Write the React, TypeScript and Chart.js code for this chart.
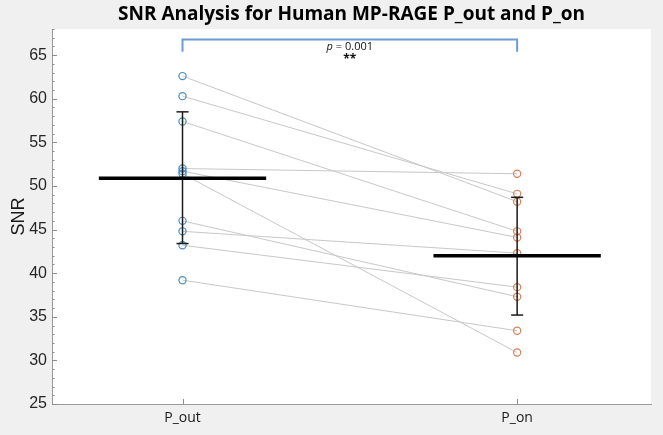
import React, { useEffect, useRef } from "react";
import { Chart, registerables } from "chart.js";

Chart.register(...registerables);

const categories = ["P_out", "P_on"];
const pOutValues = [62.6, 60.3, 57.4, 52.0, 51.7, 51.4, 46.0, 44.8, 43.2, 39.2];
const pOnValues = [48.2, 49.1, 44.8, 51.4, 44.1, 30.9, 37.3, 42.3, 38.4, 33.4];
const groupMeans = [50.9, 42.0];
const errLow = [43.4, 35.2];
const errHigh = [58.5, 48.7];
const yMin = 25;
const yMax = 68;
const majorStep = 5;
const bracketLow = 65.4;
const bracketHigh = 66.8;
const pText = "p";
const pRest = " = 0.001";
const stars = "**";
const titleText = "SNR Analysis for Human MP-RAGE P_out and P_on";
const yTitle = "SNR";

const X_MIN = 0.61;
const X_MAX = 2.4;
const MEAN_HALF = 0.25;
const CAP_HALF = 0.018;

const overlay = {
  id: "overlay",
  beforeDraw(chart: any) {
    const { ctx, chartArea } = chart;
    ctx.save();
    ctx.fillStyle = "#f0f0f0";
    ctx.fillRect(0, 0, chart.width, chart.height);
    ctx.fillStyle = "#ffffff";
    ctx.fillRect(chartArea.left, chartArea.top, chartArea.right - chartArea.left, chartArea.bottom - chartArea.top);
    ctx.restore();
  },
  afterDraw(chart: any) {
    const { ctx, chartArea, scales } = chart;
    const y = scales.y;
    const x = scales.x;
    ctx.save();
    ctx.strokeStyle = "#8c8c8c";
    ctx.lineWidth = 1;
    for (let v = yMin; v <= yMax; v += 1) {
      const py = Math.round(y.getPixelForValue(v)) + 0.5;
      const len = v % majorStep === 0 ? 5 : 2.5;
      ctx.beginPath();
      ctx.moveTo(chartArea.left, py);
      ctx.lineTo(chartArea.left + len, py);
      ctx.stroke();
    }
    [1, 2].forEach((v) => {
      const px = Math.round(x.getPixelForValue(v)) + 0.5;
      ctx.beginPath();
      ctx.moveTo(px, chartArea.bottom);
      ctx.lineTo(px, chartArea.bottom - 5);
      ctx.stroke();
    });
    ctx.fillStyle = "#000000";
    ctx.font = "bold 19px 'Open Sans'";
    ctx.textAlign = "center";
    ctx.textBaseline = "middle";
    ctx.fillText(titleText, (chartArea.left + chartArea.right) / 2, 15);
    ctx.save();
    ctx.translate(19, (chartArea.top + chartArea.bottom) / 2);
    ctx.rotate(-Math.PI / 2);
    ctx.font = "18px 'Liberation Sans'";
    ctx.fillStyle = "#1a1a1a";
    ctx.fillText(yTitle, 0, 0);
    ctx.restore();
    const cx = (x.getPixelForValue(1) + x.getPixelForValue(2)) / 2;
    const ty = y.getPixelForValue(bracketHigh) + 7;
    ctx.font = "italic 11px 'Open Sans'";
    const w1 = ctx.measureText(pText).width;
    ctx.font = "11px 'Open Sans'";
    const w2 = ctx.measureText(pRest).width;
    const start = cx - (w1 + w2) / 2;
    ctx.textAlign = "left";
    ctx.fillStyle = "#111111";
    ctx.font = "italic 11px 'Open Sans'";
    ctx.fillText(pText, start, ty);
    ctx.font = "11px 'Open Sans'";
    ctx.fillText(pRest, start + w1, ty);
    ctx.textAlign = "center";
    ctx.font = "bold 12px 'Open Sans'";
    ctx.fillText(stars, cx, ty + 13);
    ctx.restore();
  },
};

export default function App() {
  const ref = useRef<HTMLCanvasElement | null>(null);
  useEffect(() => {
    if (!ref.current) return;
    const pairLines = pOutValues.map((v, i) => ({
      data: [
        { x: 1, y: v },
        { x: 2, y: pOnValues[i] },
      ],
      showLine: true,
      borderColor: "#c8c8c8",
      borderWidth: 1,
      pointRadius: 0,
    }));
    const meanLines = groupMeans.map((m, i) => ({
      data: [
        { x: i + 1 - MEAN_HALF, y: m },
        { x: i + 1 + MEAN_HALF, y: m },
      ],
      showLine: true,
      borderColor: "#000000",
      borderWidth: 3.5,
      pointRadius: 0,
    }));
    const errLines: any[] = [];
    groupMeans.forEach((_, i) => {
      const cx = i + 1;
      errLines.push({
        data: [
          { x: cx, y: errLow[i] },
          { x: cx, y: errHigh[i] },
        ],
        showLine: true,
        borderColor: "#1a1a1a",
        borderWidth: 1.5,
        pointRadius: 0,
      });
      [errLow[i], errHigh[i]].forEach((v) => {
        errLines.push({
          data: [
            { x: cx - CAP_HALF, y: v },
            { x: cx + CAP_HALF, y: v },
          ],
          showLine: true,
          borderColor: "#1a1a1a",
          borderWidth: 1.5,
          pointRadius: 0,
        });
      });
    });
    const bracket = {
      data: [
        { x: 1, y: bracketLow },
        { x: 1, y: bracketHigh },
        { x: 2, y: bracketHigh },
        { x: 2, y: bracketLow },
      ],
      showLine: true,
      borderColor: "#6d9bd1",
      borderWidth: 2,
      pointRadius: 0,
      clip: false,
    };
    const outPts = {
      data: pOutValues.map((v) => ({ x: 1, y: v })),
      pointRadius: 3.6,
      pointBorderWidth: 1.2,
      borderColor: "#4a8cc7",
      backgroundColor: "rgba(0,0,0,0)",
    };
    const onPts = {
      data: pOnValues.map((v) => ({ x: 2, y: v })),
      pointRadius: 3.6,
      pointBorderWidth: 1.2,
      borderColor: "#d9805a",
      backgroundColor: "rgba(0,0,0,0)",
    };
    const chart = new Chart(ref.current, {
      type: "scatter",
      data: {
        datasets: [bracket, ...meanLines, ...errLines, outPts, onPts, ...pairLines] as any,
      },
      options: {
        responsive: false,
        animation: false,
        events: [],
        layout: { padding: { top: 29, right: 12, left: 0, bottom: 0 } },
        plugins: { legend: { display: false }, tooltip: { enabled: false }, title: { display: false } },
        scales: {
          x: {
            type: "linear",
            min: X_MIN,
            max: X_MAX,
            afterBuildTicks: (s: any) => {
              s.ticks = categories.map((_, i) => ({ value: i + 1 }));
            },
            afterFit: (s: any) => {
              s.height = 31;
            },
            grid: { display: false, drawTicks: false },
            border: { display: true, color: "#9a9a9a", width: 1 },
            ticks: {
              padding: 6,
              color: "#1a1a1a",
              font: { family: "'Open Sans'", size: 14 },
              callback: (v: any) => categories[Math.round(v) - 1] ?? "",
              maxRotation: 0,
            },
          },
          y: {
            type: "linear",
            min: yMin,
            max: yMax,
            afterBuildTicks: (s: any) => {
              const t = [];
              for (let v = yMin; v <= yMax; v += majorStep) t.push({ value: v });
              s.ticks = t;
            },
            afterFit: (s: any) => {
              s.width = 52;
            },
            grid: { display: false, drawTicks: false },
            border: { display: true, color: "#9a9a9a", width: 1 },
            ticks: {
              padding: 5,
              color: "#262626",
              font: { family: "'Liberation Sans'", size: 16 },
            },
          },
        },
      },
      plugins: [overlay],
    });
    return () => chart.destroy();
  }, []);
  return (
    <div style={{ position: "fixed", left: 0, top: 0, width: 663, height: 435 }}>
      <canvas ref={ref} width={663} height={435} style={{ display: "block" }} />
    </div>
  );
}
